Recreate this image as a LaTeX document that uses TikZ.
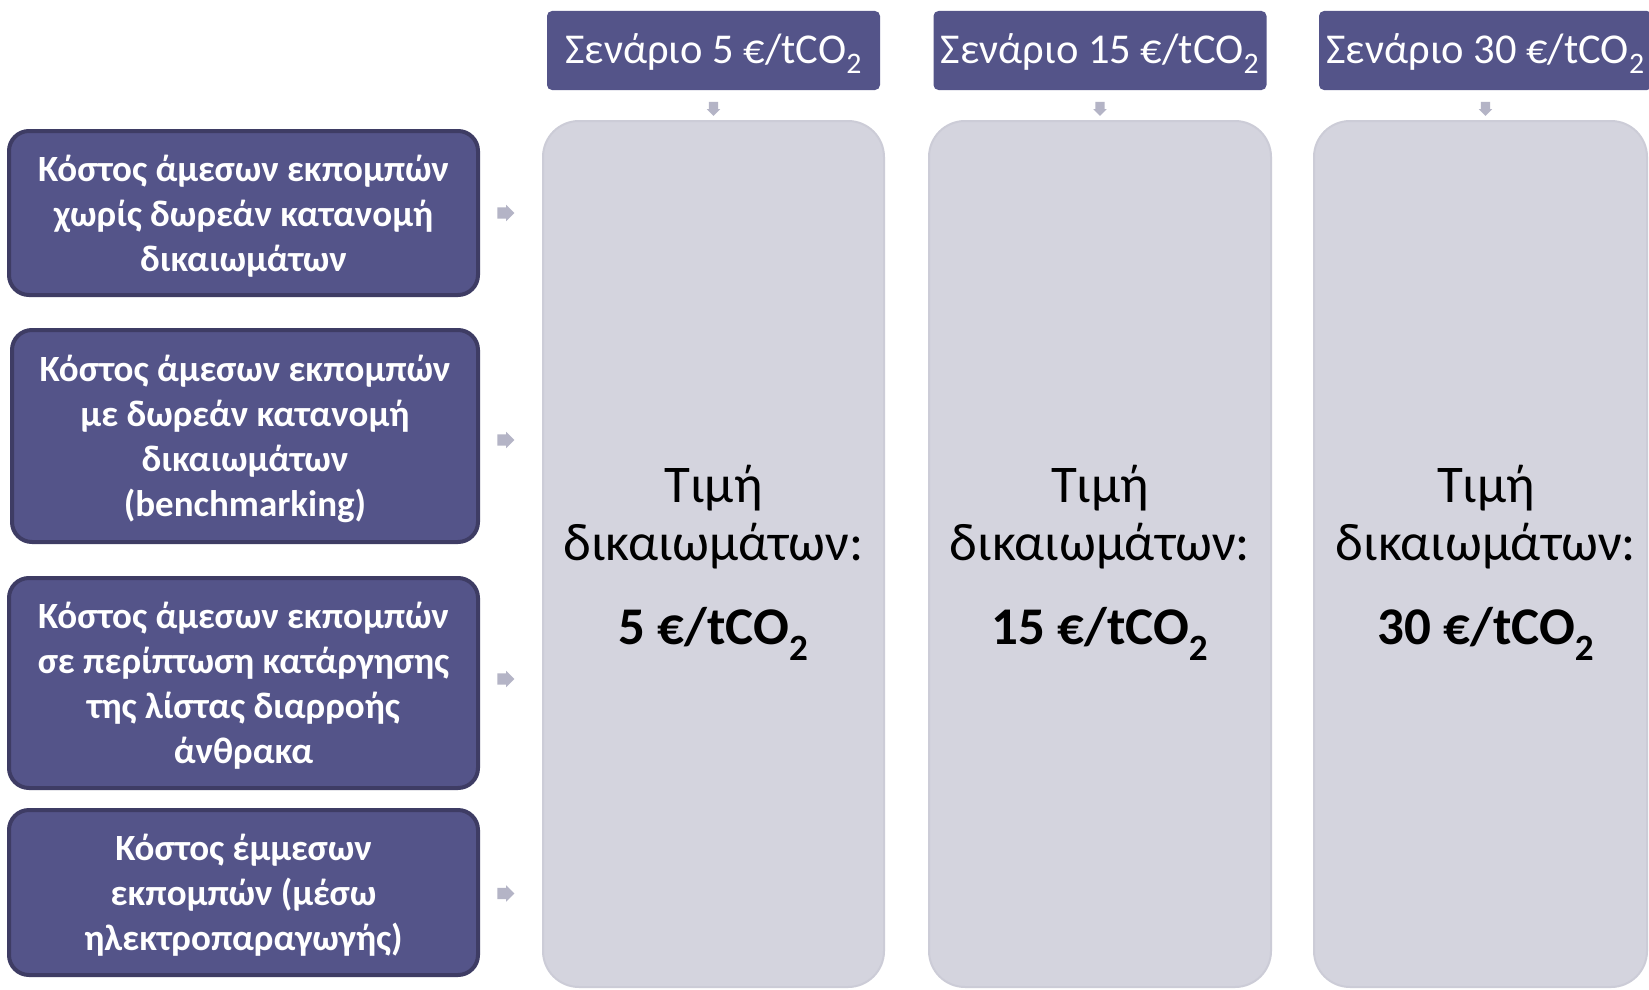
\documentclass[tikz,border=0pt]{standalone}
\usepackage{fontspec}
\setmainfont{Carlito}
\usetikzlibrary{calc,shapes.arrows}
\definecolor{boxfill}{RGB}{84,84,137}
\definecolor{boxline}{RGB}{62,60,100}
\definecolor{panelfill}{RGB}{212,212,222}
\definecolor{panelline}{RGB}{204,204,215}
\definecolor{arrowcol}{RGB}{180,180,198}
\newcommand\shiftdown[2]{\raisebox{-#1}[\height][\depth]{#2}}
\tikzset{
  leftbox/.style={draw=boxline, line width=4pt, fill=boxfill, rounded corners=20pt,
    text=white, align=center, inner sep=0pt,
    font=\bfseries\fontsize{37}{45}\selectfont},
  headbox/.style={fill=boxfill, rounded corners=5pt, text=white, inner sep=0pt,
    minimum width=333pt, minimum height=79pt, font=\fontsize{42.5}{50}\selectfont},
  panelbox/.style={draw=panelline, line width=2pt, fill=panelfill, rounded corners=36pt,
    inner sep=0pt, minimum height=866pt},
  paneltext/.style={align=center, text=black, inner sep=0pt,
    font=\fontsize{53}{58}\selectfont},
  rarrow/.style={single arrow, fill=arrowcol, inner sep=0pt, inner ysep=5.5pt,
    single arrow head extend=2.5pt, minimum height=17pt, draw=none},
  darrow/.style={single arrow, fill=arrowcol, inner sep=0pt, inner ysep=4.5pt,
    single arrow head extend=2pt, minimum height=14pt, draw=none, rotate=-90}
}
\begin{document}
\begin{tikzpicture}[x=1pt,y=-1pt]
\useasboundingbox (0,0) rectangle (1649,990);
\fill[white] (0,0) rectangle (1649,990);
\begin{scope}
\clip (0,0) rectangle (1649,990);
% panels
\node[panelbox, minimum width=341pt] (p1) at (713.5,554) {};
\node[panelbox, minimum width=342pt] (p2) at (1100,554) {};
\node[panelbox, minimum width=333pt] (p3) at (1480.5,554) {};
% headers
\node[headbox] (h1) at (713.5,50.5) {\shiftdown{3pt}{Σενάριο 5 €/tCO\textsubscript{2}}};
\node[headbox] (h2) at (1100,50.5) {\shiftdown{3pt}{Σενάριο 15 €/tCO\textsubscript{2}}};
\node[headbox] (h3) at (1485.5,50.5) {\shiftdown{3pt}{Σενάριο 30 €/tCO\textsubscript{2}}};
% panel texts
\node[paneltext] (t1) at (713.5,563) {Τιμή\\δικαιωμάτων:\\[26pt]\textbf{5 €/tCO\textsubscript{2}}};
\node[paneltext] (t2) at (1100,563) {Τιμή\\δικαιωμάτων:\\[26pt]\textbf{15 €/tCO\textsubscript{2}}};
\node[paneltext] (t3) at (1486,563) {Τιμή\\δικαιωμάτων:\\[26pt]\textbf{30 €/tCO\textsubscript{2}}};
% left boxes
\node[leftbox, minimum width=469pt, minimum height=164pt] (b1) at (243.5,213)
  {\shiftdown{3pt}{\parbox{460pt}{\centering Κόστος άμεσων εκπομπών\\χωρίς δωρεάν κατανομή\\δικαιωμάτων}}};
\node[leftbox, minimum width=466pt, minimum height=212pt] (b2) at (245,436)
  {\shiftdown{3pt}{\parbox{460pt}{\centering Κόστος άμεσων εκπομπών\\με δωρεάν κατανομή\\δικαιωμάτων\\(benchmarking)}}};
\node[leftbox, minimum width=469pt, minimum height=210pt] (b3) at (243.5,683)
  {\shiftdown{3pt}{\parbox{460pt}{\centering Κόστος άμεσων εκπομπών\\σε περίπτωση κατάργησης\\της λίστας διαρροής\\άνθρακα}}};
\node[leftbox, minimum width=469pt, minimum height=165pt] (b4) at (243.5,892.5)
  {\shiftdown{3pt}{\parbox{460pt}{\centering Κόστος έμμεσων\\εκπομπών (μέσω\\ηλεκτροπαραγωγής)}}};
% small block arrows
\node[darrow] (d1) at ($(h1.south)!0.55!(p1.north)$) {};
\node[darrow] (d2) at ($(h2.south)!0.55!(p2.north)$) {};
\node[darrow] (d3) at ($(h3.south)!0.55!(p3.north -| h3.south)$) {};
\node[rarrow] (r1) at ($(b1.east)!0.37!(p1.west |- b1.east)$) {};
\node[rarrow] (r2) at ($(b2.east)!0.37!(p1.west |- b2.east)+(0,4)$) {};
\node[rarrow] (r3) at ($(b3.east)!0.37!(p1.west |- b3.east)+(0,-4)$) {};
\node[rarrow] (r4) at ($(b4.east)!0.37!(p1.west |- b4.east)+(0,1)$) {};
\end{scope}
\end{tikzpicture}
\end{document}
